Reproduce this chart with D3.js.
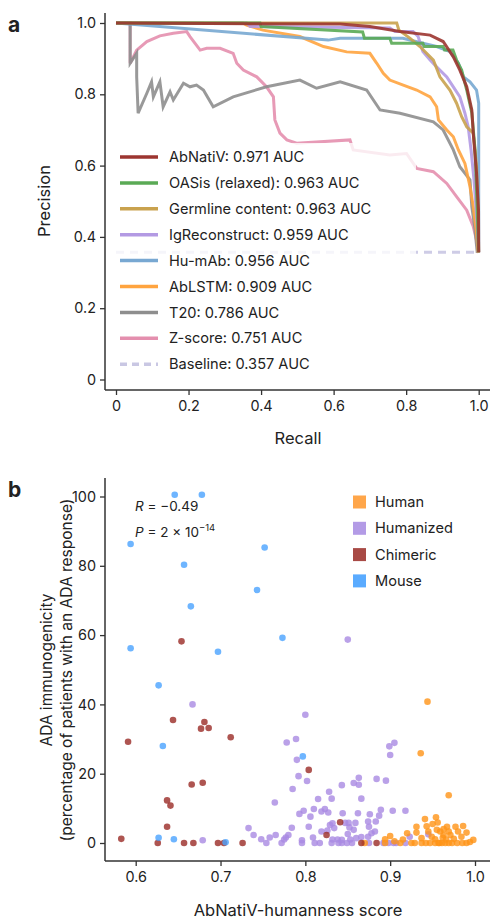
<!DOCTYPE html>
<html><head><meta charset="utf-8">
<script src="https://cdn.jsdelivr.net/npm/d3@7"></script>
<style>
html,body{margin:0;padding:0;background:#fff;}
text{font-family:Inter,"Noto Sans",sans-serif;fill:#222;}
</style></head>
<body><svg id="c" width="490" height="921"></svg>
<script>
// ---------- Panel a data: precision-recall curves [recall, precision] ----------
const abnativ = [[0,1],[0.618,0.997],[0.70,0.99],[0.783,0.976],[0.866,0.966],[0.902,0.948],[0.93,0.905],[0.948,0.868],[0.967,0.821],[0.981,0.756],[0.985,0.691],[0.994,0.579],[0.9995,0.475],[1,0.357]];
const oasis = [[0,1],[0.397,1],[0.40,0.99],[0.68,0.975],[0.685,0.957],[0.755,0.957],[0.76,0.943],[0.846,0.943],[0.85,0.934],[0.902,0.934],[0.906,0.924],[0.929,0.924],[0.939,0.896],[0.953,0.868],[0.967,0.812],[0.981,0.748],[0.99,0.644],[0.995,0.504],[0.9995,0.357]];
const germline = [[0,1],[0.774,1],[0.78,0.98],[0.811,0.957],[0.838,0.934],[0.875,0.896],[0.893,0.849],[0.921,0.811],[0.939,0.775],[0.953,0.737],[0.967,0.709],[0.985,0.691],[0.994,0.597],[0.998,0.475],[1,0.357]];
const igrecon = [[0,1],[0.36,1],[0.37,0.99],[0.507,0.989],[0.755,0.986],[0.769,0.976],[0.819,0.976],[0.833,0.962],[0.846,0.92],[0.866,0.896],[0.884,0.877],[0.912,0.849],[0.93,0.821],[0.948,0.793],[0.962,0.747],[0.971,0.709],[0.979,0.643],[0.987,0.56],[0.995,0.447],[1,0.357]];
const humab = [[0,1],[0.585,0.952],[0.618,0.957],[0.791,0.957],[0.846,0.943],[0.884,0.934],[0.921,0.92],[0.944,0.887],[0.958,0.849],[0.976,0.835],[0.994,0.812],[1,0.775],[1,0.357]];
const ablstm = [[0,1],[0.35,1],[0.36,0.994],[0.405,0.98],[0.507,0.962],[0.572,0.934],[0.636,0.919],[0.70,0.915],[0.719,0.887],[0.737,0.859],[0.755,0.84],[0.792,0.826],[0.829,0.812],[0.866,0.793],[0.884,0.765],[0.889,0.728],[0.912,0.70],[0.93,0.681],[0.944,0.644],[0.962,0.606],[0.976,0.541],[0.985,0.485],[0.993,0.419],[0.999,0.355]];
const t20 = [[0,1],[0.039,1],[0.039,0.887],[0.057,0.915],[0.057,0.849],[0.061,0.747],[0.085,0.803],[0.098,0.835],[0.103,0.793],[0.121,0.835],[0.13,0.765],[0.149,0.807],[0.158,0.784],[0.186,0.831],[0.204,0.821],[0.222,0.826],[0.241,0.812],[0.268,0.765],[0.323,0.793],[0.415,0.821],[0.507,0.84],[0.553,0.817],[0.618,0.835],[0.691,0.812],[0.728,0.756],[0.783,0.747],[0.875,0.723],[0.902,0.70],[0.93,0.644],[0.948,0.597],[0.976,0.56],[0.981,0.485],[0.99,0.419],[0.996,0.355]];
const zscore = [[0,1],[0.039,1],[0.039,0.887],[0.057,0.924],[0.085,0.948],[0.121,0.964],[0.158,0.971],[0.195,0.976],[0.204,0.962],[0.218,0.943],[0.232,0.924],[0.25,0.929],[0.287,0.929],[0.323,0.915],[0.333,0.887],[0.351,0.868],[0.388,0.849],[0.415,0.821],[0.434,0.793],[0.438,0.728],[0.452,0.691],[0.471,0.672],[0.498,0.663],[0.645,0.672],[0.654,0.644],[0.755,0.63],[0.801,0.634],[0.829,0.592],[0.875,0.583],[0.912,0.55],[0.939,0.513],[0.967,0.475],[0.985,0.429],[0.994,0.391],[0.999,0.355]];
const baseline = [[0,0.357],[1,0.357]];
const legendLabels = ["AbNatiV: 0.971 AUC","OASis (relaxed): 0.963 AUC","Germline content: 0.963 AUC","IgReconstruct: 0.959 AUC","Hu-mAb: 0.956 AUC","AbLSTM: 0.909 AUC","T20: 0.786 AUC","Z-score: 0.751 AUC","Baseline: 0.357 AUC"];
const prTicks = [0,0.2,0.4,0.6,0.8,1.0];

// ---------- Panel b data: [humanness score, ADA %] ----------
const mouse = [[0.646,100.5],[0.678,100.5],[0.594,86.3],[0.752,85.3],[0.657,80.3],[0.743,73],[0.665,68.3],[0.594,56.2],[0.697,55.2],[0.773,59.2],[0.627,45.5],[0.632,28],[0.797,25],[0.627,1.5],[0.645,1.1],[0.706,0.2]];
const chimeric = [[0.654,58.2],[0.591,29.2],[0.644,35.5],[0.681,34.9],[0.677,33],[0.686,33.2],[0.712,30.5],[0.666,16.9],[0.679,17.4],[0.637,12.3],[0.641,10.8],[0.637,4.7],[0.583,1.2],[0.626,0],[0.657,0],[0.668,0],[0.697,0],[0.704,0],[0.726,0],[0.804,21.1],[0.825,2.3],[0.841,6],[0.866,0],[0.884,0]];
const humanized = [[0.667,40],[0.850,58.7],[0.800,37],[0.778,29],[0.789,30],[0.790,24],[0.802,17.9],[0.792,19.3],[0.785,15.6],[0.764,11.7],[0.899,27.9],[0.900,25.4],[0.905,28.9],[0.895,18],[0.884,18.5],[0.863,18.8],[0.863,16.8],[0.857,17.3],[0.843,16.7],[0.828,14.8],[0.831,12.8],[0.815,12.7],[0.866,12.8],[0.903,9.3],[0.918,9.3],[0.889,9.6],[0.887,7.9],[0.876,8.3],[0.883,6.2],[0.874,6.2],[0.862,8.6],[0.844,8.6],[0.810,9.8],[0.798,9.3],[0.793,8.4],[0.806,7.6],[0.823,9.8],[0.827,8.8],[0.819,9.1],
[0.733,4.3],[0.739,2.3],[0.748,1.1],[0.754,0],[0.758,1.6],[0.765,2.3],[0.772,0],[0.775,1.0],[0.777,1.6],[0.780,2.3],[0.784,4.4],[0.679,0.8],[0.796,0.8],[0.796,0],[0.804,4.7],[0.809,1.6],[0.811,0],[0.817,0],[0.819,3.3],[0.826,3.6],[0.832,5.7],[0.834,4.3],[0.832,1.0],[0.831,0],[0.838,1.0],[0.839,0],[0.843,0.9],[0.843,0],[0.847,5.8],[0.851,5.8],[0.852,4.5],[0.850,2.6],[0.849,0],[0.853,1.0],[0.855,0],[0.857,3.8],[0.859,5.8],[0.860,1.4],[0.866,1.7],[0.875,4.7],[0.878,2.8],[0.882,3.3],[0.874,1.8],[0.875,0],[0.892,0],[0.898,0],[0.904,0],[0.907,0],[0.918,0],[0.923,1.8],[0.945,2.5],[0.829,5.2]];
const human = [[0.944,40.8],[0.936,25.9],[0.969,13.8],[0.941,6.9],[0.954,7.4],[0.956,5.9],[0.870,0],[0.894,0],[0.912,0],[0.925,0],[0.929,0],[0.937,0],[0.953,0],[0.957,0],[0.961,0],[0.965,0],[0.969,0],[0.973,0],[0.979,0],[0.990,0],[0.998,0.9],[0.900,2],[0.894,1.1],[0.920,2.8],[0.931,4.7],[0.931,3],[0.937,1.4],[0.945,3.3],[0.949,1.8],[0.955,3.8],[0.959,3.3],[0.963,4],[0.967,4.7],[0.969,3.3],[0.971,2.3],[0.977,4.7],[0.980,3.3],[0.986,4.9],[0.984,1.8],[0.963,2.3],[0.953,1.1],[0.985,0],[0.947,0],[0.942,0],[0.962,1.5],[0.975,1.2],[0.958,0],[0.966,1.0],[0.943,4.8],[0.950,5.5],[0.990,3.0],[0.994,0.3],[0.915,1.0],[0.905,0.5]];
const groupLabels = ["Human","Humanized","Chimeric","Mouse"];
const scoreTicks = [0.6,0.7,0.8,0.9,1.0];
const adaTicks = [0,20,40,60,80,100];

// ---------- drawing ----------
const svg = d3.select("#c");
const axisColor = "#333";

// Panel a
const xA = d3.scaleLinear().domain([0,1]).range([116,478.7]);
const yA = d3.scaleLinear().domain([0,1]).range([379.5,23]);
const series = [
  {d:abnativ,c:"#9c3530"},{d:oasis,c:"#5aaa55"},{d:germline,c:"#c9a24e"},{d:igrecon,c:"#b39ae3"},
  {d:humab,c:"#78a8d2"},{d:ablstm,c:"#ffa43f"},{d:t20,c:"#8e8e8e"},{d:zscore,c:"#e48fae"},{d:baseline,c:"#c9c7e3",dash:"8,6"}
];
const line = d3.line().x(d=>xA(d[0])).y(d=>yA(d[1]));
const gA = svg.append("g");
series.slice().reverse().forEach(s=>{
  gA.append("path").attr("d",line(s.d)).attr("fill","none").attr("stroke",s.c)
    .attr("stroke-width",3).attr("stroke-linejoin","miter").attr("stroke-opacity",0.9)
    .attr("stroke-dasharray",s.dash||null);
});
// legend background
gA.append("rect").attr("x",113).attr("y",143).attr("width",303).attr("height",234).attr("fill","#fff").attr("fill-opacity",0.8);
legendLabels.forEach((t,i)=>{
  const y = 157 + i*25.9;
  gA.append("line").attr("x1",120).attr("x2",158).attr("y1",y).attr("y2",y).attr("stroke",series[i].c)
    .attr("stroke-width",3.5).attr("stroke-dasharray",series[i].dash?"7,5":null);
  gA.append("text").attr("x",169).attr("y",y).attr("dy","0.35em").attr("font-size",14.6).text(t);
});
// axes a
const axLA = svg.append("g").attr("transform","translate(105,0)")
  .call(d3.axisLeft(yA).tickValues(prTicks).tickSize(5).tickPadding(4).tickFormat(d=>d===0?"0":d3.format(".1f")(d)));
const axBA = svg.append("g").attr("transform","translate(0,390)")
  .call(d3.axisBottom(xA).tickValues(prTicks).tickSize(5).tickPadding(6).tickFormat(d=>d===0?"0":d3.format(".1f")(d)));
[axLA,axBA].forEach(g=>{g.select(".domain").remove();g.selectAll("line").attr("stroke",axisColor).attr("stroke-width",1.3);g.selectAll("text").attr("font-size",14.4).attr("font-family","Inter,'Noto Sans',sans-serif").attr("fill","#222");});
svg.append("line").attr("x1",105).attr("x2",105).attr("y1",13).attr("y2",390).attr("stroke",axisColor).attr("stroke-width",1.5);
svg.append("line").attr("x1",105).attr("x2",490).attr("y1",390).attr("y2",390).attr("stroke",axisColor).attr("stroke-width",1.5);
svg.append("text").attr("x",298).attr("y",444).attr("text-anchor","middle").attr("font-size",16.5).text("Recall");
svg.append("text").attr("transform","translate(50,201) rotate(-90)").attr("text-anchor","middle").attr("font-size",16.5).text("Precision");
svg.append("text").attr("x",8).attr("y",32).attr("font-size",21).attr("font-weight","bold").text("a");

// Panel b
const xB = d3.scaleLinear().domain([0.6,1.0]).range([135.7,475]);
const yB = d3.scaleLinear().domain([0,100]).range([843,496.5]);
const groups = [
  {d:human,c:"#ff9417",lc:"#ffa64a"},{d:humanized,c:"#a98ae2",lc:"#b39be6"},
  {d:chimeric,c:"#9a2a25",lc:"#a84a45"},{d:mouse,c:"#4aa3ff",lc:"#5aabff"}
];
const gB = svg.append("g");
[groups[1],groups[0],groups[2],groups[3]].forEach(g=>{
  gB.selectAll(null).data(g.d).enter().append("circle")
    .attr("cx",d=>xB(d[0])).attr("cy",d=>yB(d[1])).attr("r",3.3)
    .attr("fill",g.c).attr("fill-opacity",0.8);
});
const axLB = svg.append("g").attr("transform","translate(105,0)")
  .call(d3.axisLeft(yB).tickValues(adaTicks).tickSize(5).tickPadding(4));
const axBB = svg.append("g").attr("transform","translate(0,861)")
  .call(d3.axisBottom(xB).tickValues(scoreTicks).tickSize(5).tickPadding(6).tickFormat(d3.format(".1f")));
[axLB,axBB].forEach(g=>{g.select(".domain").remove();g.selectAll("line").attr("stroke",axisColor).attr("stroke-width",1.3);g.selectAll("text").attr("font-size",14.4).attr("font-family","Inter,'Noto Sans',sans-serif").attr("fill","#222");});
svg.append("line").attr("x1",105).attr("x2",105).attr("y1",478).attr("y2",861).attr("stroke",axisColor).attr("stroke-width",1.5);
svg.append("line").attr("x1",105).attr("x2",490).attr("y1",861).attr("y2",861).attr("stroke",axisColor).attr("stroke-width",1.5);
groupLabels.forEach((t,i)=>{
  const y = 502 + i*26.3;
  svg.append("rect").attr("x",353).attr("y",y-6.5).attr("width",13).attr("height",13).attr("fill",groups[i].lc);
  svg.append("text").attr("x",375).attr("y",y).attr("dy","0.35em").attr("font-size",14.6).text(t);
});
const tR = svg.append("text").attr("x",135).attr("y",511).attr("font-size",13.5);
tR.append("tspan").attr("font-style","italic").text("R");
tR.append("tspan").text(" = −0.49");
const tP = svg.append("text").attr("x",135).attr("y",537).attr("font-size",13.5);
tP.append("tspan").attr("font-style","italic").text("P");
tP.append("tspan").text(" = 2 × 10");
tP.append("tspan").attr("font-size",9.5).attr("dy",-6).text("−14");
svg.append("text").attr("x",298).attr("y",916).attr("text-anchor","middle").attr("font-size",16.5).text("AbNatiV-humanness score");
svg.append("text").attr("transform","translate(52,670) rotate(-90)").attr("text-anchor","middle").attr("font-size",15.5).text("ADA immunogenicity");
svg.append("text").attr("transform","translate(72,670) rotate(-90)").attr("text-anchor","middle").attr("font-size",15.5).text("(percentage of patients with an ADA response)");
svg.append("text").attr("x",8).attr("y",497).attr("font-size",21).attr("font-weight","bold").text("b");
</script></body></html>
